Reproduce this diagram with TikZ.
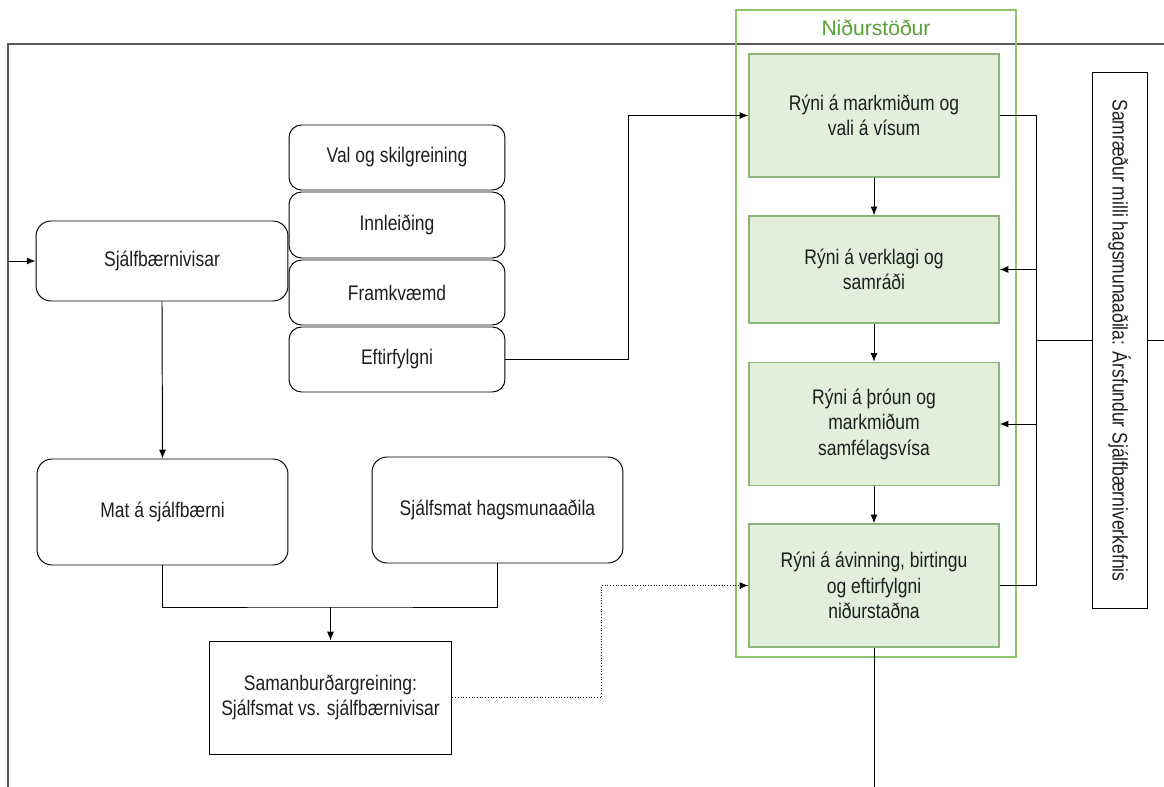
\documentclass[tikz,border=0pt]{standalone}
\usepackage{fontspec}
\setmainfont[FakeStretch=0.83]{Liberation Sans}
\newfontfamily\titlefont{Liberation Sans}
\usetikzlibrary{arrows.meta}

\definecolor{txt}{HTML}{1E1E1E}
\definecolor{framegray}{HTML}{5A5A5A}
\definecolor{gfill}{HTML}{E2EFDA}
\definecolor{gline}{HTML}{8DB47A}
\definecolor{gframe}{HTML}{8CC56A}
\definecolor{gtitle}{HTML}{58A035}

\begin{document}
\begin{tikzpicture}[x=0.02cm, y=-0.02cm, font=\fontsize{12}{14.5}\selectfont]

\tikzset{rbox/.style = {shape=rectangle, draw, rounded corners=0.3cm, align=center, text=txt, line width=0.55pt}}
\tikzset{sbox/.style = {shape=rectangle, draw, align=center, text=txt, line width=0.55pt}}
\tikzset{gbox/.style = {shape=rectangle, draw=gline, fill=gfill, align=center, text=txt, line width=0.8pt, minimum width=5cm}}
\tikzset{edge/.style = {->, > = {Latex[length=5pt,width=4pt]}, line width=0.55pt}}
\tikzset{link/.style = {line width=0.55pt}}

\useasboundingbox (0,0) rectangle (1164,787);

% frame
\draw[framegray, line width=0.7pt] (8,787) -- (8,44) -- (1164,44);
\draw[gframe, line width=0.8pt] (736,10) rectangle (1016,657);
\node[text=gtitle, font=\titlefont\fontsize{12}{14}\selectfont] (tit) at (876,28) {Niðurstöður};

% vertices
\node[rbox, minimum width=5.04cm, minimum height=1.6cm] (sjv) at (162,261) {Sjálfbærnivisar};

\node[rbox, rounded corners=0.25cm, minimum width=4.32cm, minimum height=1.3cm] (val) at (397,157.5) {Val og skilgreining};
\node[rbox, rounded corners=0.25cm, minimum width=4.32cm, minimum height=1.32cm] (inn) at (397,225) {Innleiðing};
\node[rbox, rounded corners=0.25cm, minimum width=4.32cm, minimum height=1.3cm] (fra) at (397,292.5) {Framkvæmd};
\node[rbox, rounded corners=0.25cm, minimum width=4.32cm, minimum height=1.3cm] (eft) at (397,359.5) {Eftirfylgni};

\node[rbox, minimum width=5.02cm, minimum height=2.12cm] (mat) at (162.5,512) {Mat á sjálfbærni};
\node[rbox, minimum width=5.02cm, minimum height=2.12cm] (sjm) at (497.5,510) {Sjálfsmat hagsmunaaðila};
\node[sbox, minimum width=4.86cm, minimum height=2.26cm] (cmp) at (330.5,697.5) {Samanburðargreining:\\Sjálfsmat vs. sjálfbærnivisar};

\node[gbox, minimum height=2.46cm] (r1) at (874,115.5) {Rýni á markmiðum og\\vali á vísum};
\node[gbox, minimum height=2.14cm] (r2) at (874,269.5) {Rýni á verklagi og\\samráði};
\node[gbox, minimum height=2.46cm] (r3) at (874,424) {Rýni á þróun og\\markmiðum\\samfélagsvísa};
\node[gbox, minimum height=2.46cm] (r4) at (874,585.5) {Rýni á ávinning, birtingu\\og eftirfylgni\\niðurstaðna};

\node[sbox, rotate=-90, minimum width=10.74cm, minimum height=1.1cm] (vb) at (1119.5,340.5) {Samræður milli hagsmunaaðila: Ársfundur Sjálfbærniverkefnis};

\coordinate (in) at (8,261);
\coordinate (mrg) at (330.5,607);
\coordinate (bus) at (1036,0);
\coordinate (rgt) at (1164,340.5);
\coordinate (out) at (874,787);

%edges
\draw[edge] (in) -- (sjv.west);
\draw[edge] (sjv.south) -- (mat.north);
\draw[link] (mat.south) |- (mrg) -| (sjm.south);
\draw[edge] (mrg) -- (cmp.north);
\draw[edge] (eft.east) -- ++(123,0) |- (r1.west);
\draw[edge, densely dotted] (cmp.east) -- ++(149,0) |- (r4.west);
\draw[edge] (r1) -- (r2);
\draw[edge] (r2) -- (r3);
\draw[edge] (r3) -- (r4);
\draw[link] (r4.south) -- (out);
\draw[link] (r1.east) -- (r1.east -| bus) -- (r4.east -| bus) -- (r4.east);
\draw[edge] (r2.east -| bus) -- (r2.east);
\draw[edge] (r3.east -| bus) -- (r3.east);
\draw[link] (bus |- vb.center) -- (vb.south);
\draw[link] (vb.north) -- (rgt);

\end{tikzpicture}
\end{document}
